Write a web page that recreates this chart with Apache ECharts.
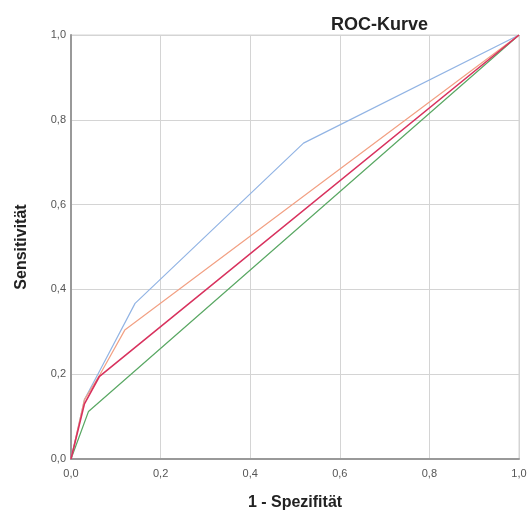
<!DOCTYPE html>
<html>
<head>
<meta charset="utf-8">
<script src="https://cdn.jsdelivr.net/npm/echarts@6/dist/echarts.min.js"></script>
<style>html,body{margin:0;padding:0;background:#fff;}#c{width:531px;height:519px;}</style>
</head>
<body>
<div id="c"></div>
<script>
const titleText = 'ROC-Kurve';
const xName = '1 - Spezifität';
const yName = 'Sensitivität';
const tickValues = [0, 0.2, 0.4, 0.6, 0.8, 1.0];

const blueX = [0, 0.03, 0.065, 0.143, 0.519, 1];
const blueY = [0, 0.14, 0.21, 0.367, 0.745, 1];
const orangeX = [0, 0.03, 0.065, 0.12, 1];
const orangeY = [0, 0.14, 0.20, 0.304, 1];
const redX = [0, 0.03, 0.063, 1];
const redY = [0, 0.13, 0.194, 1];
const greenX = [0, 0.039, 1];
const greenY = [0, 0.112, 1];

function pairs(xs, ys) { return xs.map((x, i) => [x, ys[i]]); }

const font = 'Liberation Sans, Arial, sans-serif';
const chart = echarts.init(document.getElementById('c'));
function mk(name, xs, ys, color, w, z) {
  return { name, type: 'line', data: pairs(xs, ys), showSymbol: false, symbol: 'none',
    lineStyle: { color, width: w }, itemStyle: { color }, z, animation: false };
}
chart.setOption({
  animation: false,
  title: { text: titleText, left: 326, top: 11,
    textStyle: { fontFamily: font, fontSize: 18, fontWeight: 'bold', color: '#222' } },
  grid: { left: 71, right: 12, top: 35, bottom: 60, show: true, borderColor: '#d4d4d4', borderWidth: 1 },
  xAxis: { type: 'value', min: tickValues[0], max: tickValues[tickValues.length - 1], interval: 0.2,
    name: xName, nameLocation: 'middle', nameGap: 36,
    nameTextStyle: { fontFamily: font, fontSize: 16, fontWeight: 'bold', color: '#222' },
    axisLine: { show: true, lineStyle: { color: '#999', width: 2 } },
    axisTick: { show: false },
    axisLabel: { fontFamily: font, fontSize: 11, color: '#555', margin: 9,
      formatter: v => v.toFixed(1).replace('.', ',') },
    splitLine: { show: true, lineStyle: { color: '#d4d4d4', width: 1 } } },
  yAxis: { type: 'value', min: tickValues[0], max: tickValues[tickValues.length - 1], interval: 0.2,
    name: yName, nameLocation: 'middle', nameGap: 41, nameRotate: 90,
    nameTextStyle: { fontFamily: font, fontSize: 16, fontWeight: 'bold', color: '#222' },
    axisLine: { show: true, lineStyle: { color: '#999', width: 2 } },
    axisTick: { show: false },
    axisLabel: { fontFamily: font, fontSize: 11, color: '#555', margin: 5,
      formatter: v => v.toFixed(1).replace('.', ',') },
    splitLine: { show: true, lineStyle: { color: '#d4d4d4', width: 1 } } },
  series: [
    mk('green', greenX, greenY, '#5aa864', 1.2, 2),
    mk('blue', blueX, blueY, '#92b4e4', 1.2, 3),
    mk('orange', orangeX, orangeY, '#f2a184', 1.2, 4),
    mk('red', redX, redY, '#d8325e', 1.6, 5)
  ]
});
</script>
</body>
</html>
